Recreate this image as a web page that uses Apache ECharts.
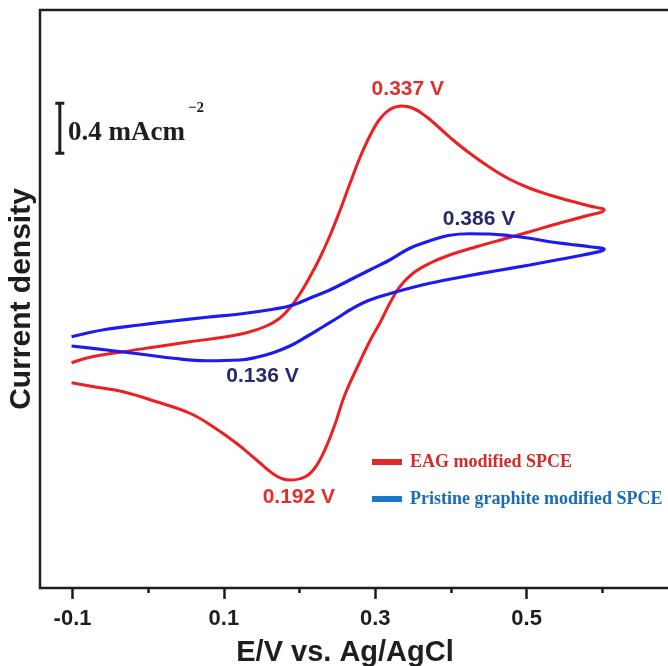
<!DOCTYPE html>
<html>
<head>
<meta charset="utf-8">
<script src="https://cdn.jsdelivr.net/npm/echarts@6/dist/echarts.min.js"></script>
<style>
    html, body { margin: 0; padding: 0; background: #fff; }
    #chart { width: 668px; height: 666px; }
</style>
</head>
<body>
<div id="chart"></div>
<script>
// CV loops: potential (V vs Ag/AgCl) and current density (mA cm^-2, arbitrary offset)
// forward scan -0.1 -> 0.6 V, then back to -0.1 V
var eagE = [-0.1013, -0.0771, -0.0332, 0.0110, 0.0550, 0.0989, 0.1299, 0.1563, 0.1738, 0.1871,
    0.2003, 0.2135, 0.2267, 0.2399, 0.2531, 0.2663, 0.2795, 0.2928, 0.3060, 0.3192,
    0.3346, 0.3499, 0.3676, 0.3852, 0.4028, 0.4248, 0.4512, 0.4776, 0.5040, 0.5304,
    0.5568, 0.5832, 0.6025,
    0.5745, 0.5394, 0.5041, 0.4688, 0.4337, 0.3984, 0.3720, 0.3499, 0.3324, 0.3192,
    0.3059, 0.2927, 0.2795, 0.2597, 0.2465, 0.2333, 0.2201, 0.2069, 0.1871, 0.1695,
    0.1431, 0.1166, 0.0857, 0.0550, 0.0110, -0.0332, -0.0771, -0.1013];
var eagJ = [-0.502, -0.458, -0.414, -0.374, -0.334, -0.298, -0.262, -0.208, -0.146, -0.064,
    0.048, 0.184, 0.336, 0.512, 0.712, 0.928, 1.136, 1.312, 1.448, 1.524,
    1.552, 1.534, 1.466, 1.374, 1.280, 1.174, 1.062, 0.966, 0.894, 0.840,
    0.794, 0.752, 0.720,
    0.666, 0.608, 0.546, 0.486, 0.426, 0.360, 0.294, 0.214, 0.106, -0.026,
    -0.186, -0.330, -0.496, -0.760, -1.000, -1.200, -1.344, -1.416, -1.440, -1.408,
    -1.280, -1.146, -1.014, -0.906, -0.814, -0.734, -0.688, -0.662];

var pgE = [-0.1013, -0.0551, -0.0111, 0.0329, 0.0770, 0.1210, 0.1650, 0.1914, 0.2178, 0.2399,
    0.2663, 0.2927, 0.3191, 0.3456, 0.3720, 0.3984, 0.4248, 0.4512, 0.4776, 0.5040,
    0.5304, 0.5568, 0.5832, 0.6025,
    0.5745, 0.5394, 0.5041, 0.4601, 0.4160, 0.3720, 0.3280, 0.2927, 0.2663, 0.2531,
    0.2310, 0.2091, 0.1871, 0.1650, 0.1431, 0.1210, 0.0770, 0.0329, -0.0111, -0.0551,
    -0.1013];
var pgJ = [-0.294, -0.234, -0.200, -0.168, -0.138, -0.112, -0.074, -0.040, 0.026, 0.080,
    0.160, 0.240, 0.320, 0.414, 0.474, 0.518, 0.530, 0.528, 0.514, 0.494,
    0.466, 0.446, 0.426, 0.406,
    0.360, 0.320, 0.280, 0.234, 0.186, 0.134, 0.066, 0.000, -0.080, -0.132,
    -0.214, -0.294, -0.368, -0.422, -0.458, -0.480, -0.486, -0.466, -0.432, -0.400,
    -0.368];

var majorTicks = [-0.1, 0.1, 0.3, 0.5];
var minorTicks = [0, 0.2, 0.4, 0.6];
var seriesNames = ['EAG modified SPCE', 'Pristine graphite modified SPCE'];
var peakText = ['0.337 V', '0.192 V', '0.386 V', '0.136 V'];
var scaleBarValue = 0.4;

// where the peak labels sit (data coordinates)
var peakAnchors = [[0.343, 1.688], [0.199, -1.576], [0.437, 0.648], [0.151, -0.608]];
var peakColors = ['#e0302e', '#e0302e', '#272a6b', '#272a6b'];

function pairs(xs, ys) {
    return xs.map(function (x, i) { return [x, ys[i]]; });
}

var chart = echarts.init(document.getElementById('chart'), null, { renderer: 'canvas' });

var sans = 'Liberation Sans, Arial, sans-serif';
var serif = 'Liberation Serif, Times New Roman, serif';

var option = {
    animation: false,
    backgroundColor: '#fff',
    grid: {
        left: 40, top: 10, width: 638, height: 578,
        outerBoundsMode: 'none', containLabel: false,
        show: true, borderColor: '#1e1e1e', borderWidth: 2.5
    },
    xAxis: [{
        type: 'value', min: -0.143, max: 0.7, position: 'bottom',
        axisLine: { show: false, onZero: false },
        splitLine: { show: false },
        axisTick: { show: true, inside: false, customValues: majorTicks, length: 11, lineStyle: { color: '#1e1e1e', width: 2.5 } },
        axisLabel: {
            customValues: majorTicks, margin: 20,
            color: '#1e1e1e', fontSize: 22, fontWeight: 'bold', fontFamily: sans
        },
        name: 'E/V vs. Ag/AgCl', nameLocation: 'middle', nameGap: 50,
        nameTextStyle: { color: '#1e1e1e', fontSize: 29, fontWeight: 'bold', fontFamily: sans, padding: [0, 28, 0, 0] }
    }, {
        type: 'value', min: -0.143, max: 0.7, position: 'bottom',
        axisLine: { show: false, onZero: false },
        splitLine: { show: false },
        axisTick: { show: true, inside: false, customValues: minorTicks, length: 5, lineStyle: { color: '#1e1e1e', width: 2.5 } },
        axisLabel: { show: false }
    }],
    yAxis: {
        type: 'value', min: -2.304, max: 2.32,
        axisLine: { show: false, onZero: false }, axisTick: { show: false },
        axisLabel: { show: false }, splitLine: { show: false },
        name: 'Current density', nameLocation: 'middle', nameGap: 3, nameRotate: 90,
        nameTextStyle: { color: '#1e1e1e', fontSize: 30, fontWeight: 'bold', fontFamily: sans }
    },
    legend: {
        data: [
            { name: seriesNames[0], itemStyle: { color: '#e02a2a' }, textStyle: { color: '#d42a2c' } },
            { name: seriesNames[1], itemStyle: { color: '#1a78cc' }, textStyle: { color: '#1a6cb4' } }
        ],
        orient: 'vertical', left: 372, top: 453, padding: 0,
        icon: 'rect', itemWidth: 30, itemHeight: 6, itemGap: 19,
        textStyle: { fontSize: 18, lineHeight: 18, fontWeight: 'bold', fontFamily: serif, padding: [0, 0, 0, 3] }
    },
    graphic: [{
        type: 'text', left: 68, top: 120,
        style: { text: '0.4 mAcm', fill: '#1e1e1e', font: 'bold 27px ' + serif }
    }, {
        type: 'text', left: 188, top: 101,
        style: { text: '\u22122', fill: '#1e1e1e', font: 'bold 15px ' + serif }
    }],
    series: [{
        name: seriesNames[0], type: 'line',
        data: pairs(eagE, eagJ),
        showSymbol: false, smooth: 0.4,
        lineStyle: { color: '#ee1f22', width: 3 },
        itemStyle: { color: '#ee1f22' }
    }, {
        name: seriesNames[1], type: 'line',
        data: pairs(pgE, pgJ),
        showSymbol: false, smooth: 0.4,
        lineStyle: { color: '#1c1cf0', width: 3.2 },
        itemStyle: { color: '#1c1cf0' }
    }, {
        name: 'peaks', type: 'scatter', silent: true,
        symbolSize: 0,
        itemStyle: { opacity: 1 },
        data: peakText.map(function (t, i) {
            return {
                name: t, value: peakAnchors[i],
                label: { color: peakColors[i] }
            };
        }),
        label: {
            show: true, position: 'inside', formatter: '{b}', opacity: 1,
            fontSize: 21, fontWeight: 'bold', fontFamily: sans
        }
    }, {
        name: 'scale', type: 'custom', silent: true,
        data: [[-0.1168, 1.174, scaleBarValue]],
        renderItem: function (params, api) {
            var p0 = api.coord([api.value(0), api.value(1)]);
            var p1 = api.coord([api.value(0), api.value(1) + api.value(2)]);
            var cap = 4.5;
            var st = { stroke: '#1e1e1e', lineWidth: 3 };
            return {
                type: 'group',
                children: [
                    { type: 'line', shape: { x1: p0[0], y1: p0[1], x2: p1[0], y2: p1[1] }, style: st },
                    { type: 'line', shape: { x1: p0[0] - cap, y1: p0[1], x2: p0[0] + cap, y2: p0[1] }, style: st },
                    { type: 'line', shape: { x1: p1[0] - cap, y1: p1[1], x2: p1[0] + cap, y2: p1[1] }, style: st }
                ]
            };
        }
    }]
};

chart.setOption(option);
</script>
</body>
</html>
